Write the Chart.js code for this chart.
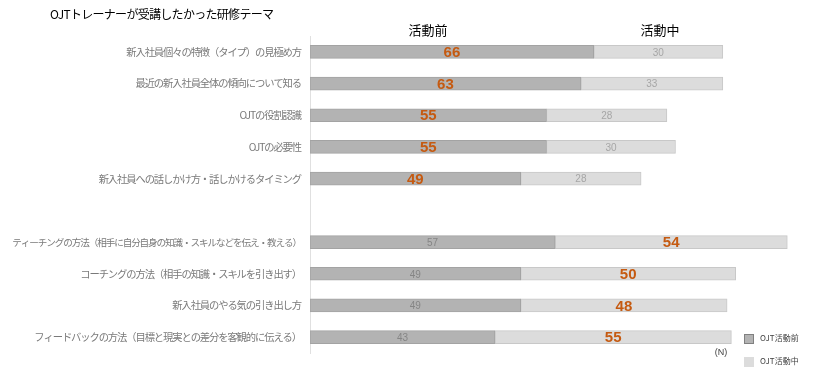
<!DOCTYPE html>
<html>
<head>
<meta charset="utf-8">
<script src="https://cdn.jsdelivr.net/npm/chart.js@4"></script>
<style>
  body { margin: 0; background: #fff; }
  #wrap { position: relative; width: 840px; height: 372px; font-family: "Noto Sans CJK JP", sans-serif; }
  #title { position: absolute; left: 50px; top: 5px; font-size: 12px; letter-spacing: -0.7px; color: #000; }
  .legend { position: absolute; left: 744px; font-size: 8px; color: #404040; }
  .legend span { display: inline-block; width: 10px; height: 10px; vertical-align: middle; margin-right: 6px; box-sizing: border-box; }
</style>
</head>
<body>
<div id="wrap">
  <canvas id="themeChart"></canvas>
  <div id="title">OJTトレーナーが受講したかった研修テーマ</div>
  <div class="legend" style="top:332px"><span style="background:#b3b3b3;border:1px solid #808080"></span>OJT活動前</div>
  <div class="legend" style="top:355px"><span style="background:#dcdcdc"></span>OJT活動中</div>
</div>
<script>
const themes = [
    "新入社員個々の特徴（タイプ）の見極め方",
    "最近の新入社員全体の傾向について知る",
    "OJTの役割認識",
    "OJTの必要性",
    "新入社員への話しかけ方・話しかけるタイミング",
    "",
    "ティーチングの方法（相手に自分自身の知識・スキルなどを伝え・教える）",
    "コーチングの方法（相手の知識・スキルを引き出す）",
    "新入社員のやる気の引き出し方",
    "フィードバックの方法（目標と現実との差分を客観的に伝える）"
];
const before = [66, 63, 55, 55, 49, null, 57, 49, 49, 43];
const during = [30, 33, 28, 30, 28, null, 54, 50, 48, 55];
// which series gets the big orange number in each row: 0 = before, 1 = during
const highlight = [0, 0, 0, 0, 0, null, 1, 1, 1, 1];

const orange = "#c55a11";

// tighter spacing for the long category names
const tightLabels = {
    id: "tightLabels",
    beforeDraw(chart) {
        chart.ctx.letterSpacing = "-1.1px";
    },
    beforeDatasetsDraw(chart) {
        chart.ctx.letterSpacing = "0px";
    }
};

const valueLabels = {
    id: "valueLabels",
    afterDatasetsDraw(chart) {
        const c = chart.ctx;
        c.save();
        c.letterSpacing = "0px";
        c.textAlign = "center";
        c.textBaseline = "middle";
        chart.data.datasets.forEach((ds, di) => {
            chart.getDatasetMeta(di).data.forEach((bar, i) => {
                const v = ds.data[i];
                if (v == null) return;
                const x = (bar.x + bar.base) / 2;
                if (highlight[i] === di) {
                    c.font = "bold 15px 'Liberation Sans', Arial";
                    c.fillStyle = orange;
                } else {
                    c.font = "10px 'Liberation Sans', Arial";
                    c.fillStyle = di === 0 ? "#858585" : "#a6a6a6";
                }
                c.fillText(v, x, bar.y + 1);
            });
        });
        // column headers
        c.font = "13px 'Noto Sans CJK JP'";
        c.fillStyle = "#000";
        c.fillText("活動前", 428, 30);
        c.fillText("活動中", 660, 30);
        c.font = "9px 'Liberation Sans', Arial";
        c.fillStyle = "#404040";
        c.fillText("(N)", 721, 353);
        c.restore();
    }
};

const ctx = document.getElementById("themeChart");

new Chart(ctx, {
    type: "bar",
    data: {
        labels: themes,
        datasets: [
            {
                label: "OJT活動前",
                data: before,
                backgroundColor: "#b3b3b3",
                borderColor: "#a3a3a3",
                borderWidth: 1,
                borderSkipped: false,
                barThickness: 13
            },
            {
                label: "OJT活動中",
                data: during,
                backgroundColor: "#dcdcdc",
                borderColor: "#c8c8c8",
                borderWidth: 1,
                borderSkipped: false,
                barThickness: 13
            }
        ]
    },
    options: {
        indexAxis: "y",
        responsive: true,
        maintainAspectRatio: false,
        animation: false,
        layout: {
            padding: { top: 36, bottom: 19, left: 0, right: 14 }
        },
        plugins: {
            legend: { display: false },
            tooltip: { enabled: false }
        },
        scales: {
            x: {
                stacked: true,
                display: false,
                min: 0,
                max: 120
            },
            y: {
                stacked: true,
                grid: { display: false, drawTicks: false },
                border: { display: true, color: "#e0e0e0", width: 1 },
                ticks: {
                    color: "#7a7a7a",
                    padding: 9,
                    autoSkip: false,
                    font: (c) => ({
                        family: "'Noto Sans CJK JP'",
                        size: themes[c.index] && themes[c.index].length > 30 ? 9.6 : 10.3
                    })
                },
                afterFit(scale) {
                    scale.width = 310;
                }
            }
        }
    },
    plugins: [tightLabels, valueLabels]
});
</script>
</body>
</html>
